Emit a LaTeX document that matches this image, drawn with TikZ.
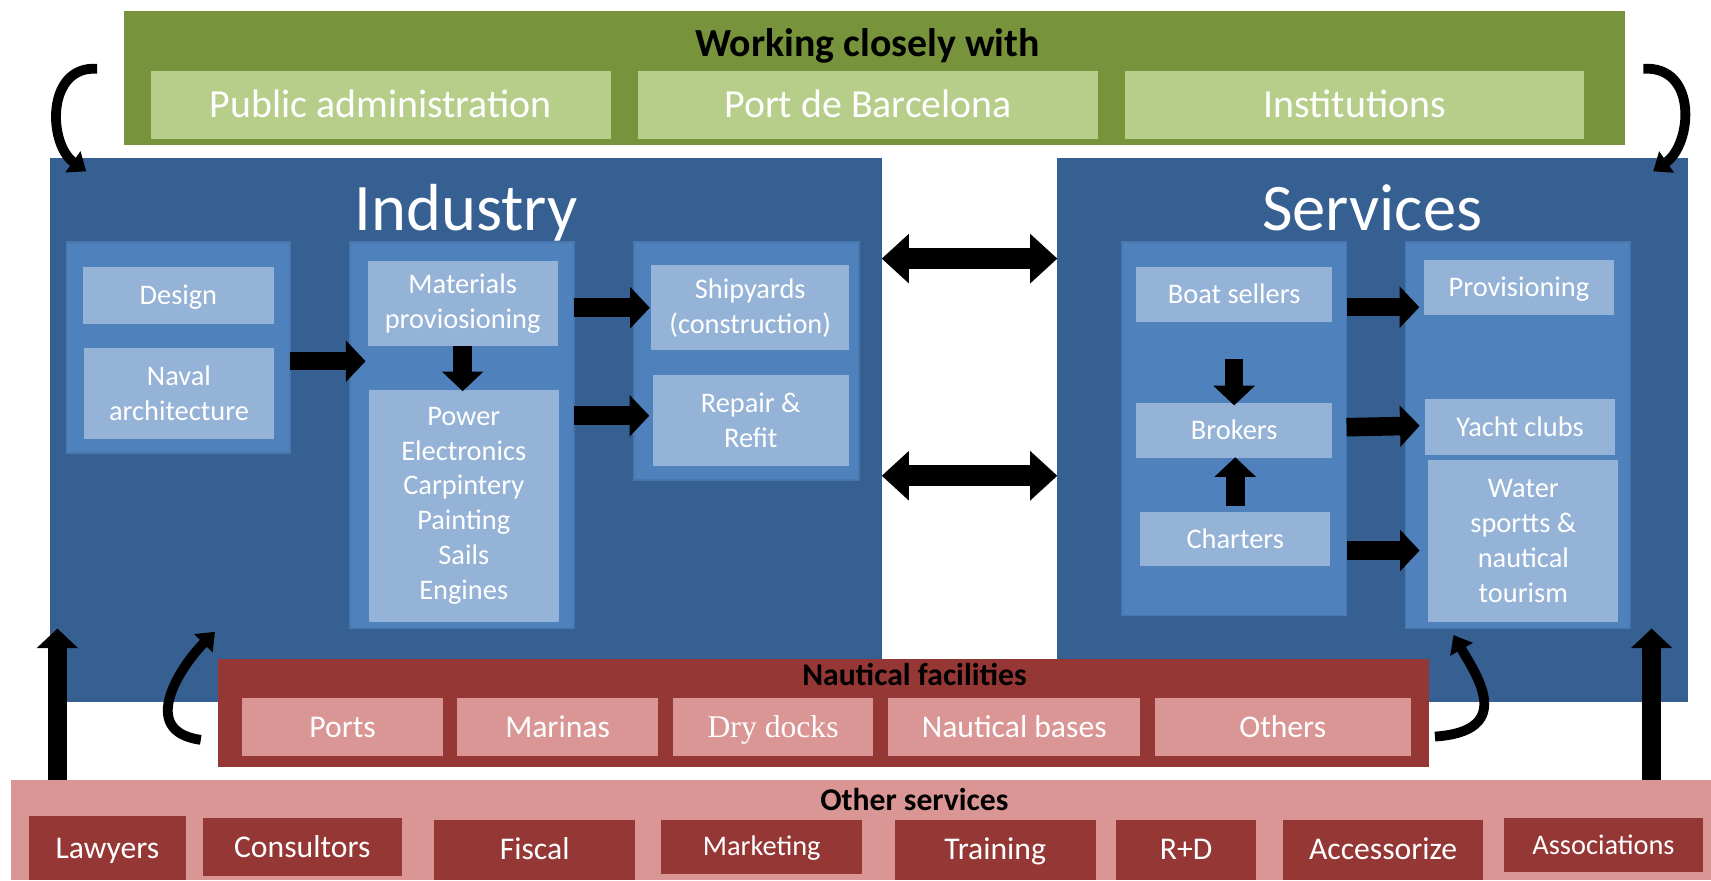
\documentclass[tikz,border=0pt]{standalone}
\usepackage{fontspec}
\setmainfont{Carlito}
\newfontfamily\ddfont{Liberation Serif}
\usetikzlibrary{arrows.meta}
\definecolor{grD}{HTML}{77933C}
\definecolor{grL}{HTML}{B7CE8B}
\definecolor{bluD}{HTML}{376092}
\definecolor{bluM}{HTML}{4F81BD}
\definecolor{bluL}{HTML}{95B3D7}
\definecolor{redD}{HTML}{953735}
\definecolor{redL}{HTML}{D99694}
\newcommand\mybox[7]{\node[#1, minimum width={(#5-#3)*1pt}, minimum height={(#6-#4)*1pt}] (#2) at ({(#3+#5)/2},{(#4+#6)/2}) {#7};}
\begin{document}
\begin{tikzpicture}[x=1pt,y=-1pt,
  bx/.style={inner sep=0pt, outer sep=0pt, align=center, text=white},
  grp/.style={bx, fill=grD},
  gsub/.style={bx, fill=grL, font=\fontsize{36.5}{44}\selectfont, text height=23.5pt, text depth=0pt},
  big/.style={bx, fill=bluD},
  col/.style={bx, fill=bluM, draw=bluM!70!bluD, line width=1.5pt},
  lb/.style={bx, fill=bluL, font=\fontsize{26}{32}\selectfont},
  lb1/.style={lb, text height=21.9pt, text depth=5.2pt},
  naut/.style={bx, fill=redD},
  nsub/.style={bx, fill=redL, font=\fontsize{29}{35}\selectfont, text height=24.5pt, text depth=5.8pt},
  oth/.style={bx, fill=redL},
  osub/.style={bx, fill=redD, font=\fontsize{29}{35}\selectfont, text height=24.5pt, text depth=5.8pt},
  osubs/.style={bx, fill=redD, font=\fontsize{26}{31}\selectfont, text height=21.9pt, text depth=5.2pt},
  ttl/.style={inner sep=0pt, font=\bfseries\fontsize{36.5}{44}\selectfont, text=black},
  ttlb/.style={inner sep=0pt, font=\bfseries\fontsize{29}{35}\selectfont, text=black},
  bigttl/.style={inner sep=0pt, font=\fontsize{61}{73}\selectfont, text=white},
  blk/.style={line width=17pt, -{Triangle[length=18pt,width=37pt]}, black},
  dblk/.style={line width=19pt, {Triangle[length=25pt,width=44pt]}-{Triangle[length=25pt,width=44pt]}, black},
  carr/.style={line width=9pt, -{Triangle[length=15pt,width=23pt]}, black}]
\useasboundingbox (0,0) rectangle (1568,806.5);
% Working closely with
\mybox{grp}{green}{114}{10}{1489}{133}{}
\node[ttl, anchor=base] (wtitle) at (795,52) {Working closely with};
\mybox{gsub}{pub}{138}{65}{560}{127}{Public administration}
\mybox{gsub}{port}{585}{65}{1006}{127}{Port de Barcelona}
\mybox{gsub}{inst}{1031}{65}{1452}{127}{Institutions}
% big boxes
\mybox{big}{ind}{46}{145}{808}{643}{}
\mybox{big}{serv}{969}{145}{1547}{643}{}
\node[bigttl, anchor=base] (indt) at (427,211) {Industry};
\node[bigttl, anchor=base] (servt) at (1257.5,211) {Services};
% columns
\mybox{col}{i1}{61}{222}{266}{415}{}
\mybox{col}{i2}{321}{222}{526}{576}{}
\mybox{col}{i3}{581}{222}{787}{440}{}
\mybox{col}{s1}{1028}{222}{1234}{564}{}
\mybox{col}{s2}{1288}{222}{1494}{576}{}
% light boxes
\mybox{lb1}{design}{76}{245}{251}{297}{Design}
\mybox{lb}{naval}{77}{319}{251}{402}{Naval\\architecture}
\mybox{lb}{mat}{337}{239}{511}{317}{Materials\\proviosioning}
\mybox{lb}{pow}{338}{357}{512}{570}{Power\\Electronics\\Carpintery\\Painting\\Sails\\Engines}
\mybox{lb}{ship}{597}{243}{778}{321}{Shipyards\\(construction)}
\mybox{lb}{rep}{598}{344}{778}{427}{Repair \&\\Refit}
\mybox{lb1}{boat}{1041}{245}{1221}{295}{Boat sellers}
\mybox{lb1}{brok}{1041}{369}{1221}{420}{Brokers}
\mybox{lb1}{chart}{1045}{469}{1219}{519}{Charters}
\mybox{lb1}{prov}{1305}{238}{1479}{289}{Provisioning}
\mybox{lb1}{yacht}{1306}{366}{1480}{417}{Yacht clubs}
\mybox{lb}{water}{1309}{422}{1483}{570}{Water\\sportts \&\\nautical\\tourism}
% industry arrows
\draw[blk, shorten >=-14pt] ([yshift=-12.5pt]i1.east) -- ([yshift=68pt]i2.west);
\draw[blk, shorten >=-1.5pt] (mat.south) -- (mat.south |- pow.north);
\draw[blk, shorten >=1.5pt] ([yshift=117pt]i2.east) -- (ship.west);
\draw[blk, shorten >=3pt] ([yshift=18pt]i2.east) -- ([yshift=4.5pt]rep.west);
% double arrows
\draw[dblk] ([yshift=157pt]ind.east) -- ([yshift=157pt]serv.west);
\draw[dblk] ([yshift=-42pt]ind.east) -- ([yshift=-42pt]serv.west);
% services arrows
\draw[blk, shorten >=-2.5pt] ([yshift=-34pt]boat.south) -- (brok.north);
\draw[blk, shorten <=5pt, shorten >=-1pt] (chart.north) -- (chart.north |- brok.south);
\draw[blk, shorten >=4.3pt] ([yshift=111.5pt]s1.east) -- ([yshift=-18pt]prov.west);
\draw[blk, shorten >=5pt] ([yshift=1.5pt]s1.east) -- ([yshift=1.5pt]yacht.west);
\draw[blk, shorten >=8pt] ([yshift=-111.5pt]s1.east) -- ([yshift=-8.5pt]water.west);
% nautical facilities
\mybox{naut}{nf}{200}{604}{1310}{703}{}
\node[ttlb, anchor=base] (nft) at (838,628) {Nautical facilities};
\mybox{nsub}{ports}{222}{640}{406}{693}{Ports}
\mybox{nsub}{marinas}{419}{640}{603}{693}{Marinas}
\mybox{nsub}{dry}{617}{640}{800}{693}{\ddfont Dry docks}
\mybox{nsub}{nbases}{814}{640}{1045}{693}{Nautical bases}
\mybox{nsub}{others}{1058}{640}{1293}{693}{Others}
% other services
\mybox{oth}{os}{10}{714.5}{1568}{806.5}{}
\node[ttlb, anchor=base] (ost) at (838,743) {Other services};
\mybox{osub}{law}{27}{748}{170}{806.5}{Lawyers}
\mybox{osub}{cons}{186}{750}{368}{803}{Consultors}
\mybox{osub}{fisc}{398}{751}{582}{806.5}{Fiscal}
\mybox{osubs}{mark}{606}{751}{790}{801}{Marketing}
\mybox{osub}{train}{820}{751}{1004}{806.5}{Training}
\mybox{osub}{rd}{1023}{751}{1151}{806.5}{R+D}
\mybox{osub}{acc}{1176}{751}{1359}{806.5}{Accessorize}
\mybox{osubs}{assoc}{1378}{750}{1561}{799}{Associations}
% vertical arrows
\coordinate (v1t) at (52.6,576);
\coordinate (v2t) at (1513.6,576);
\draw[blk] (os.north -| v1t) -- (v1t);
\draw[blk] (os.north -| v2t) -- (v2t);
% curved arrows
\coordinate (c1s) at (89,63);   \coordinate (c1e) at (79,157);
\coordinate (c2s) at (1506,63); \coordinate (c2e) at (1515,157);
\coordinate (c3s) at (184,678); \coordinate (c3e) at (197,579);
\coordinate (c4s) at (1315,675);\coordinate (c4e) at (1332,582);
\draw[carr] (c1s) .. controls (42,60) and (44,132) .. (c1e);
\draw[carr] (c2s) .. controls (1556,60) and (1551,132) .. (c2e);
\draw[carr] (c3s) .. controls (125,670) and (167,609) .. (c3e);
\draw[carr] (c4s) .. controls (1390,670) and (1352,617) .. (c4e);
\end{tikzpicture}
\end{document}
